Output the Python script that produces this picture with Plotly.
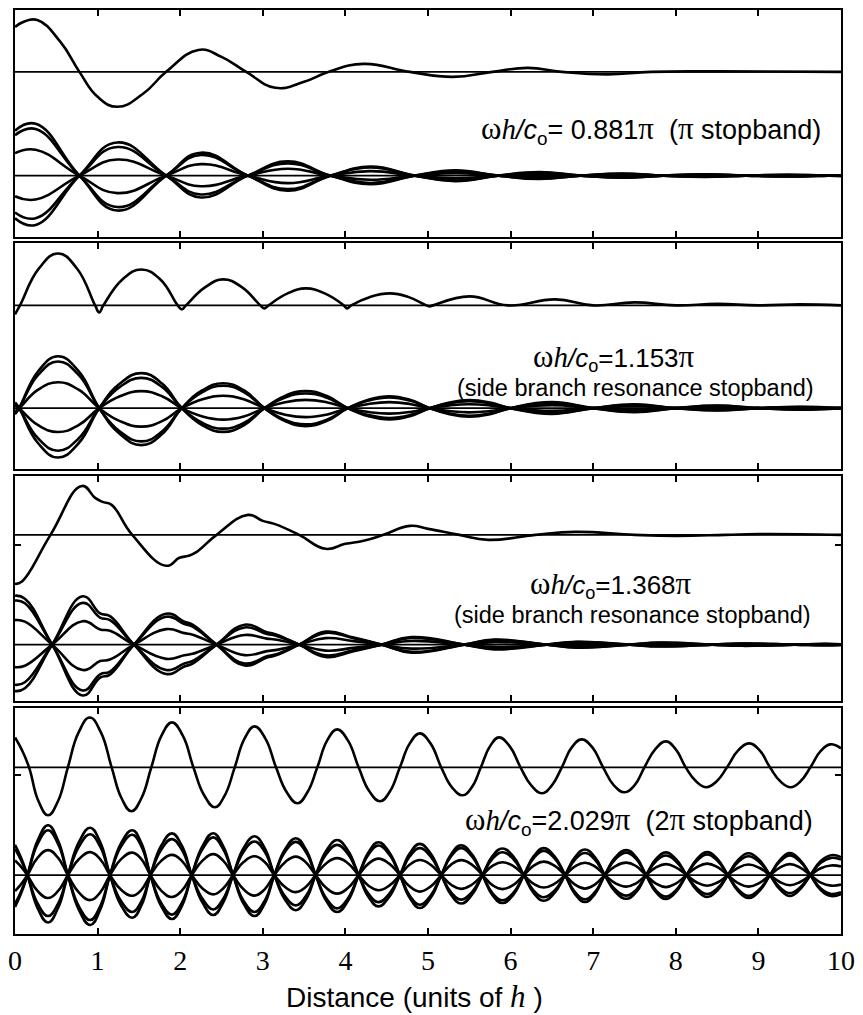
import plotly.graph_objects as go

# ---------------------------------------------------------------------------
# Pressure along the duct (distance in units of h), four driving frequencies.
# For each case: the upper trace is a single wave profile, the lower group is
# a set of time snapshots built from the signed envelope and snapshot weights.
# ---------------------------------------------------------------------------

X_TICKS = [0, 1, 2, 3, 4, 5, 6, 7, 8, 9, 10]
X_TICK_TEXT = ["0", "1", "2", "3", "4", "5", "6", "7", "8", "9", "10"]

# relative weight of each time snapshot
SNAPSHOT_WEIGHTS = [1.0, 0.9, 0.5, -0.46, -0.82, -0.95]

# --- ωh/c0 = 0.881π (π stopband) ---
p1_wave_x = [0, 0.1, 0.27, 0.55, 0.78, 1.0, 1.24, 1.55, 1.83, 2.22, 2.5, 2.80,
             3.15, 3.5, 3.80, 4.22, 4.78, 5.3, 5.78, 6.21, 6.62, 7.17, 7.7, 8.5, 10]
p1_wave_y = [45, 50, 52, 30, 0, -25, -35, -22, 0, 22, 15, 0,
             -16, -10, 0, 8, 0, -5, 0, 4, 0, -2.5, 0, 0.5, 0]
p1_env_x = [0, 0.25, 0.78, 1.24, 1.83, 2.25, 2.82, 3.3, 3.82, 4.3, 4.84, 5.33,
            5.85, 6.35, 6.85, 7.35, 7.85, 8.35, 8.85, 9.35, 9.85, 10]
p1_env_y = [45, 52, 0, -35, 0, 23, 0, -15, 0, 9, 0, -5.5,
            0, 3.5, 0, -2.2, 0, 1.4, 0, -0.9, 0, 0.3]

# --- ωh/c0 = 1.153π (side branch resonance stopband) ---
p2_wave_x = [0, 0.06, 0.29, 0.52, 0.75, 0.97, 1.02, 1.07, 1.30, 1.53, 1.76,
             1.97, 2.02, 2.07, 2.30, 2.52, 2.75, 2.97, 3.02, 3.07, 3.30, 3.52,
             3.75, 3.98, 4.02, 4.07, 4.30, 4.54, 4.76, 4.98, 5.02, 5.06,
             5.5, 5.97, 6.54, 7.0, 7.5, 8.0, 8.5, 9.0, 9.5, 10]
p2_wave_y = [-9, 0, 37, 52, 37, 0, -7, 0, 26, 36, 26,
             0, -4, 0, 18, 26, 18, 0, -3, 0, 12, 17,
             12, 0, -3, 0, 8.5, 12, 8.5, 0, -1, 0,
             9, 0, 6, 0, 3, 0, 1.5, 0, 1, 0]
p2_env_x = [0, 0.05, 0.28, 0.52, 0.77, 1.02, 1.27, 1.53, 1.78, 2.02, 2.27,
            2.52, 2.77, 3.02, 3.27, 3.52, 3.77, 4.03, 4.28, 4.53, 4.78,
            5.02, 5.26, 5.5, 5.75, 6.0, 6.5, 7.0, 7.5, 8.0, 8.5, 9.0, 9.5, 10]
p2_env_y = [-6, 0, 37, 52, 37, 0, -26, -37, -26, 0, 18,
            25, 18, 0, -13, -18, -13, 0, 8.5, 12, 8.5,
            0, -6, -8.5, -6, 0, 6, 0, -4, 0, 2.5, 0, -1.5, 0]

# --- ωh/c0 = 1.368π (side branch resonance stopband) ---
p3_wave_x = [0, 0.08, 0.43, 0.81, 0.97, 1.06, 1.17, 1.42, 1.83, 1.99, 2.1,
             2.2, 2.44, 2.82, 3.0, 3.14, 3.44, 3.76, 4.0, 4.22, 4.46, 4.78,
             5.0, 5.38, 5.73, 6.3, 6.78, 7.5, 8.0, 8.6, 9.0, 10]
p3_wave_y = [-49, -47, 0, 49, 37, 33, 30, 0, -31, -23, -21,
             -17, 0, 20, 14, 11, 0, -14, -9, -6, 0, 9,
             6, 0, -5, 0, 3, 0, -1, 0, 0.8, 0]
p3_env_x = [0, 0.12, 0.45, 0.82, 1.03, 1.15, 1.44, 1.83, 2.05, 2.15, 2.44,
            2.78, 3.05, 3.15, 3.44, 3.76, 4.1, 4.44, 4.8, 5.44, 5.8, 6.44,
            6.8, 7.44, 7.8, 8.44, 8.8, 9.44, 9.8, 10]
p3_env_y = [49, 46, 0, -51, -33, -30, 0, 31, 23, 20, 0,
            -21, -13, -11, 0, 13, 7, 0, -8, 0, 5, 0,
            -3, 0, 2, 0, -1.2, 0, 0.7, 0.4]

# --- ωh/c0 = 2.029π (2π stopband) ---
p4_wave_x = [0, 0.08, 0.17, 0.285, 0.40, 0.52, 0.64, 0.77, 0.905, 1.04, 1.17,
             1.29, 1.41, 1.53, 1.65, 1.775, 1.90, 2.03, 2.16, 2.29, 2.42, 2.54,
             2.66, 2.78, 2.90, 3.03, 3.16, 3.29, 3.42, 3.54, 3.66, 3.78, 3.90,
             4.03, 4.16, 4.29, 4.42, 4.54, 4.66, 4.78, 4.90, 5.03, 5.16, 5.29,
             5.42, 5.53, 5.64, 5.75, 5.86, 5.99, 6.12, 6.25, 6.38, 6.50, 6.62,
             6.74, 6.86, 6.99, 7.12, 7.25, 7.38, 7.50, 7.62, 7.75, 7.88, 8.0,
             8.12, 8.245, 8.37, 8.495, 8.62, 8.755, 8.89, 9.015, 9.14, 9.265,
             9.39, 9.51, 9.63, 9.75, 9.87, 10]
p4_wave_y = [30, 18, 0, -34, -48, -34, 0, 35, 50, 35, 0,
             -31, -44, -31, 0, 32, 45, 32, 0, -28, -40, -28,
             0, 29, 41, 29, 0, -25, -36, -25, 0, 27, 38,
             27, 0, -24, -34, -24, 0, 24, 34, 24, 0, -20,
             -28, -20, 0, 21, 30, 21, 0, -18, -26, -18, 0,
             20, 28, 20, 0, -18, -25, -18, 0, 18, 26, 18,
             0, -14, -20, -14, 0, 17, 24, 17, 0, -14,
             -20, -14, 0, 16, 23, 19]
p4_env_x = [0, 0.075, 0.15, 0.275, 0.40, 0.52, 0.64, 0.775, 0.91, 1.03, 1.15,
            1.285, 1.42, 1.53, 1.64, 1.77, 1.90, 2.02, 2.14, 2.27, 2.40, 2.52,
            2.64, 2.77, 2.90, 3.02, 3.14, 3.27, 3.40, 3.52, 3.64, 3.77, 3.90,
            4.03, 4.16, 4.28, 4.40, 4.53, 4.66, 4.78, 4.90, 5.03, 5.16, 5.28,
            5.40, 5.53, 5.66, 5.78, 5.90, 6.03, 6.16, 6.28, 6.40, 6.53, 6.66,
            6.78, 6.90, 7.02, 7.14, 7.27, 7.40, 7.52, 7.64, 7.76, 7.88, 8.0,
            8.13, 8.255, 8.38, 8.505, 8.63, 8.755, 8.88, 9.01, 9.14, 9.26,
            9.38, 9.505, 9.63, 9.755, 9.88, 10]
p4_env_y = [-32, -18, 0, 35, 50, 35, 0, -35, -50, -35, 0,
            32, 45, 32, 0, -31, -44, -31, 0, 29, 42, 29,
            0, -29, -41, -29, 0, 26, 37, 26, 0, -26, -37,
            -26, 0, 23, 33, 23, 0, -23, -33, -23, 0, 21,
            30, 21, 0, -20, -28, -20, 0, 19, 27, 19, 0,
            -19, -27, -19, 0, 18, 25, 18, 0, -17, -24, -17,
            0, 16, 23, 16, 0, -16, -23, -16, 0, 15,
            22, 15, 0, -15, -21, -19]

# ---------------------------------------------------------------------------
# Layout of the four stacked panels
# ---------------------------------------------------------------------------
panels = [
    dict(wave=(p1_wave_x, p1_wave_y), env=(p1_env_x, p1_env_y),
         domain=[0.7538, 1.0], yrange=[-62, 166], offset=104, yticks=[]),
    dict(wave=(p2_wave_x, p2_wave_y), env=(p2_env_x, p2_env_y),
         domain=[0.5032, 0.7473], yrange=[-61, 165], offset=103, yticks=[]),
    dict(wave=(p3_wave_x, p3_wave_y), env=(p3_env_x, p3_env_y),
         domain=[0.2527, 0.4957], yrange=[-56, 169], offset=110, yticks=[100]),
    dict(wave=(p4_wave_x, p4_wave_y), env=(p4_env_x, p4_env_y),
         domain=[0.0, 0.2441], yrange=[-59, 167], offset=108, yticks=[100]),
]

SANS = "Liberation Sans, Arial, sans-serif"
SERIF = "Liberation Serif, Times New Roman, serif"

CURVE = dict(color="black", width=2.6, shape="spline", smoothing=1.3)

fig = go.Figure()
shapes = []
layout = dict(
    width=863, height=1015,
    margin=dict(l=15, r=14, t=8, b=81),
    paper_bgcolor="white", plot_bgcolor="white",
    showlegend=False,
)

for i, p in enumerate(panels, start=1):
    xa = "x" if i == 1 else f"x{i}"
    ya = "y" if i == 1 else f"y{i}"
    wx, wy = p["wave"]
    ex, ey = p["env"]

    # upper wave profile, drawn about its own baseline
    fig.add_trace(go.Scatter(x=wx, y=[p["offset"] + v for v in wy], mode="lines",
                             line=CURVE, xaxis=xa, yaxis=ya, hoverinfo="skip"))
    # time snapshots
    for w in SNAPSHOT_WEIGHTS:
        fig.add_trace(go.Scatter(x=ex, y=[w * v for v in ey], mode="lines",
                                 line=CURVE, xaxis=xa, yaxis=ya, hoverinfo="skip"))

    # baselines of both groups
    for base in (0, p["offset"]):
        shapes.append(dict(type="line", xref=f"{xa} domain", yref=ya,
                           x0=0, x1=1, y0=base, y1=base,
                           line=dict(color="black", width=1.6), layer="above"))

    last = i == len(panels)
    layout["xaxis" if i == 1 else f"xaxis{i}"] = dict(
        domain=[0, 1], anchor=ya, range=[0, 10],
        tickvals=X_TICKS, ticktext=X_TICK_TEXT,
        ticks="inside", ticklen=6, tickwidth=1.5, tickcolor="black",
        showticklabels=last,
        tickfont=dict(family=SERIF, size=28, color="black"),
        ticklabelstandoff=0,
        showline=True, linecolor="black", linewidth=2, mirror="ticks",
        showgrid=False, zeroline=False,
    )
    layout["yaxis" if i == 1 else f"yaxis{i}"] = dict(
        domain=p["domain"], anchor=xa, range=p["yrange"],
        tickvals=p["yticks"], ticks="inside", ticklen=6, tickwidth=1.5,
        tickcolor="black", showticklabels=False,
        showline=True, linecolor="black", linewidth=2, mirror="ticks",
        showgrid=False, zeroline=False,
    )


def styled(txt, size, family=None):
    fam = f"font-family:{family};" if family else ""
    return f'<span style="{fam}font-size:{size}px">{txt}</span>'


W = styled("ω", 31, "Liberation Serif")
PI = styled("π", 31, "Liberation Serif")
H = styled("<i>h</i>", 29, "Liberation Serif")
C = "<i>/c</i><sub>o</sub>"


def label(prefix, value):
    return f"{W}{H}{C}{prefix}{value}{PI}"


SIDE_BRANCH = styled("(side branch resonance stopband)", 23.5)
# first line of the two-line labels sits a little left of the second one
NUDGE = "&nbsp;" * 6

annotations = [
    dict(xref="x", yref="y", x=7.7, y=46, size=27,
         text=label("= ", "0.881") + f"  ({PI} stopband)"),
    dict(xref="x2", yref="y2", x=7.51, y=38, size=22,
         text=styled(label("=", "1.153") + NUDGE, 26) + "<br>" + SIDE_BRANCH),
    dict(xref="x3", yref="y3", x=7.47, y=48, size=22,
         text=styled(label("=", "1.368") + NUDGE, 26) + "<br>" + SIDE_BRANCH),
    dict(xref="x4", yref="y4", x=7.56, y=54, size=27,
         text=label("=", "2.029") + f"  (2{PI} stopband)"),
]
for a in annotations:
    sz = a.pop("size")
    a.update(showarrow=False, xanchor="center", yanchor="middle", align="center",
             font=dict(family=SANS, size=sz, color="black"))

annotations.append(dict(
    xref="paper", yref="paper", x=0.484, y=-0.068,
    text="Distance (units of " + styled("<i>h</i>", 31, "Liberation Serif") + " )",
    showarrow=False, xanchor="center", yanchor="middle",
    font=dict(family=SANS, size=28, color="black"),
))

layout["shapes"] = shapes
layout["annotations"] = annotations
fig.update_layout(**layout)

fig.write_html("out.html")
